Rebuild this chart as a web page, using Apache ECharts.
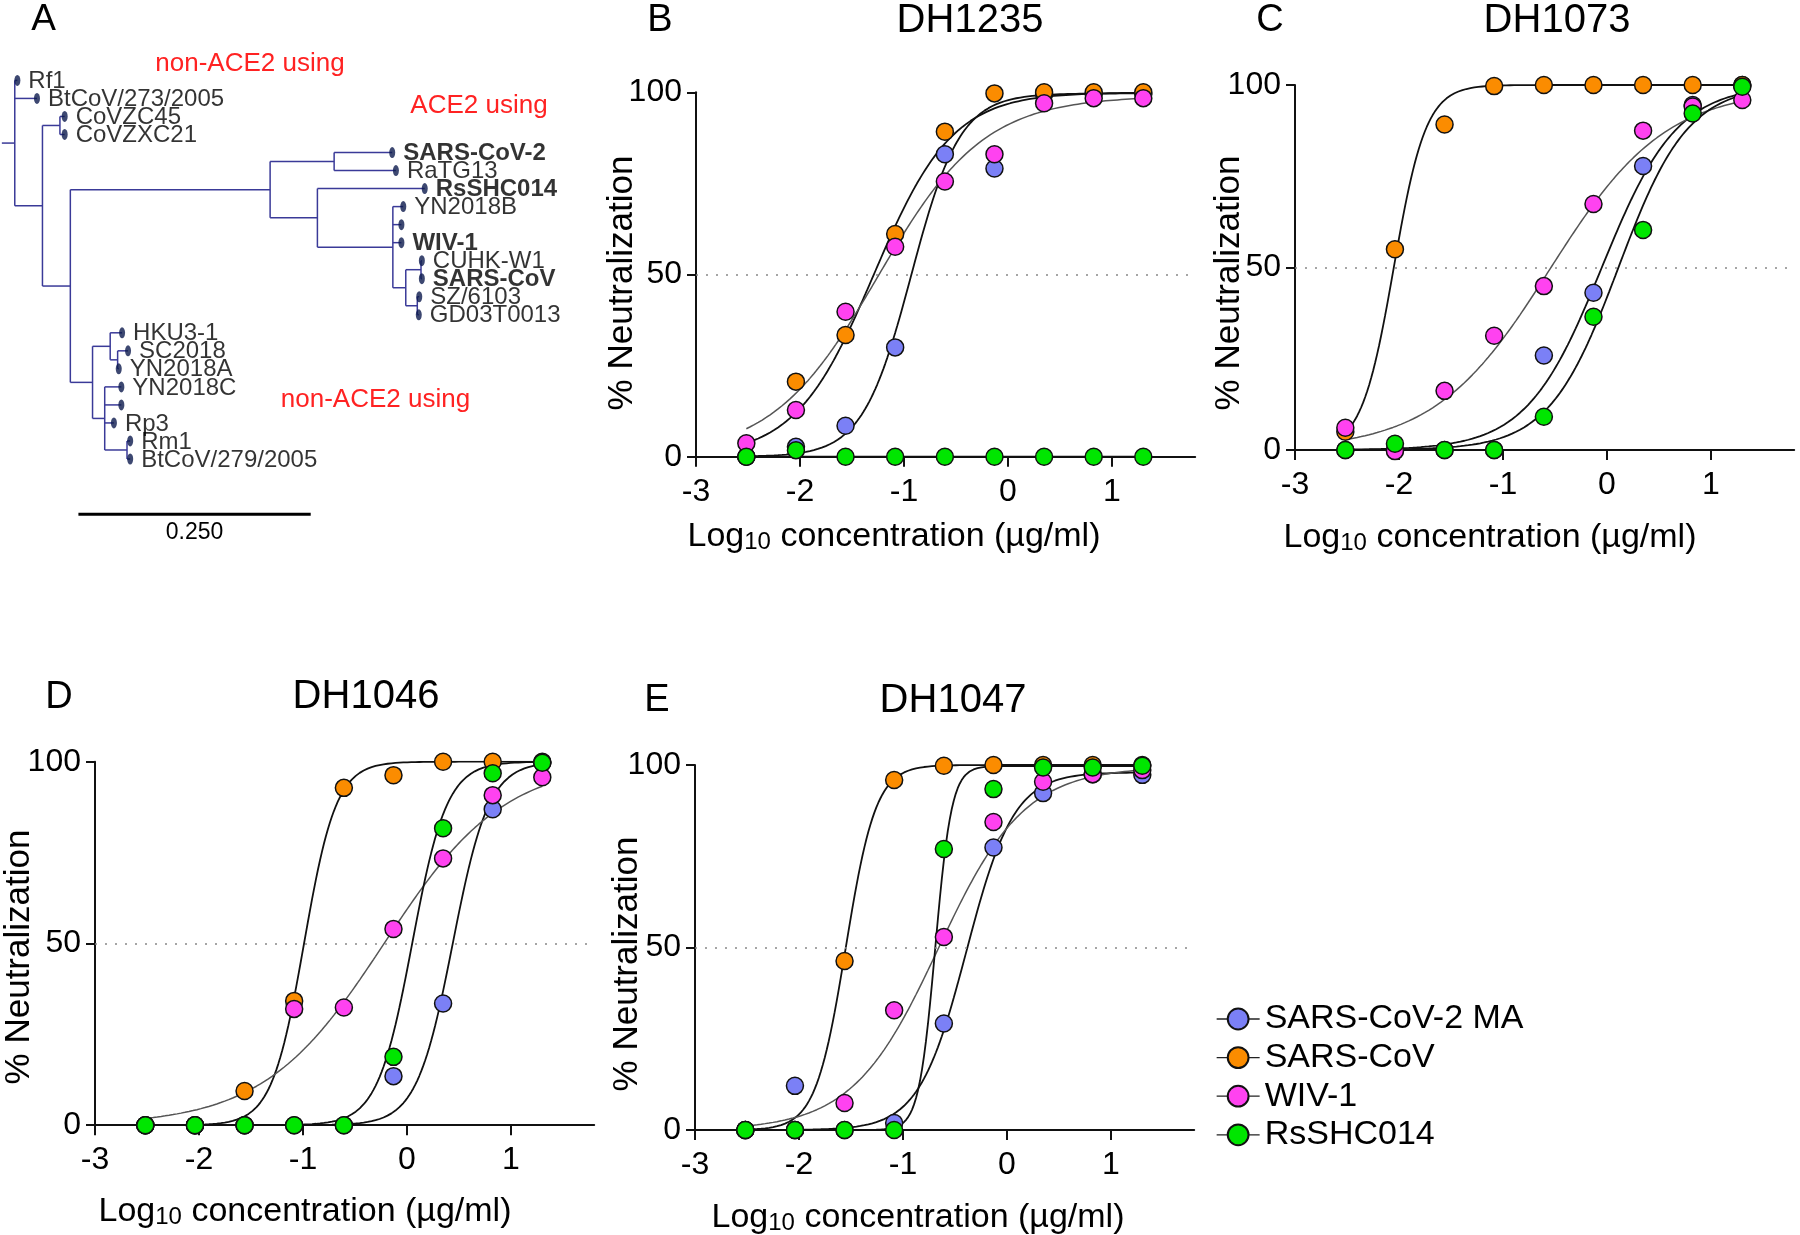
<!DOCTYPE html>
<html><head><meta charset="utf-8">
<script src="https://cdn.jsdelivr.net/npm/echarts@6/dist/echarts.min.js"></script>
<style>html,body{margin:0;padding:0;background:#fff}#c{width:1800px;height:1235px}</style>
</head><body><div id="c"></div>
<script>
// ---------------- DATA ----------------
const virusNames = ['SARS-CoV-2 MA', 'SARS-CoV', 'WIV-1', 'RsSHC014'];
const logConc = [-2.516, -2.039, -1.562, -1.085, -0.607, -0.130, 0.347, 0.824, 1.301];
const xTicks = [-3, -2, -1, 0, 1];
const yTicks = [0, 50, 100];

// DH1235
const dh1235_sars2ma = [0, 2.7, 8.5, 30, 83, 79.1, 99.5, 99.5, 99.5];
const dh1235_sarscov = [0, 20.6, 33.4, 61.1, 89.2, 99.7, 100, 100, 100];
const dh1235_wiv1 = [3.7, 12.8, 39.8, 57.6, 75.5, 83, 97, 98.4, 98.4];
const dh1235_rsshc014 = [0, 1.8, 0, 0, 0, 0, 0, 0, 0];
// fit: [bottom, top, logIC50, hill]
const dh1235_fits = [[0, 99.7, -0.93, 1.85], [0, 100, -1.29, 1.15], [0, 99, -1.25, 0.85], [0, 0, 0, 1]];

// DH1073
const dh1073_sars2ma = [0, 0, 0, 0, 25.9, 43.1, 77.8, 94.5, 100];
const dh1073_sarscov = [5, 55, 89.2, 99.7, 100, 100, 100, 100, 100];
const dh1073_wiv1 = [6.1, -0.3, 16.2, 31.3, 44.9, 67.4, 87.5, 94.1, 95.9];
const dh1073_rsshc014 = [0, 1.7, 0, 0, 9.1, 36.5, 60.3, 92.2, 99.5];
const dh1073_fits = [[0, 100, -0.05, 1.2], [0, 100, -2.05, 2.8], [0, 99, -0.55, 0.78], [0, 100, 0.11, 1.3]];

// DH1046
const dh1046_sars2ma = [0, 0, 0, 0, 0, 13.5, 33.5, 86.9, 99.7];
const dh1046_sarscov = [0, 0, 9.4, 34.2, 92.8, 96.3, 100, 100, 100];
const dh1046_wiv1 = [0, 0, 0, 32, 32.4, 54, 73.4, 90.8, 95.7];
const dh1046_rsshc014 = [0, 0, 0, 0, 0, 18.8, 81.7, 96.8, 99.7];
const dh1046_fits = [[0, 100, 0.44, 2.5], [0, 100, -0.99, 2.8], [0, 100, -0.22, 0.75], [0, 100, 0.05, 2.6]];

// DH1047
const dh1047_sars2ma = [0, 12.1, 0, 1.9, 29.2, 77.4, 92.3, 97.5, 97.3];
const dh1047_sarscov = [0, 0, 46.3, 95.9, 99.8, 100, 100, 100, 100];
const dh1047_wiv1 = [0, 0, 7.4, 32.8, 52.9, 84.4, 95.4, 97.5, 98.6];
const dh1047_rsshc014 = [0, 0, 0, 0, 77, 93.4, 99.3, 99.3, 99.8];
const dh1047_fits = [[0, 98, -0.39, 1.9], [0, 100, -1.55, 3.0], [0, 99.5, -0.66, 1.05], [0, 99.7, -0.69, 5.5]];

// Phylogenetic tree (panel A): leaves top to bottom, depth = distance from root
const treeLeaves = ['Rf1', 'BtCoV/273/2005', 'CoVZC45', 'CoVZXC21', 'SARS-CoV-2', 'RaTG13', 'RsSHC014',
  'YN2018B', '', 'WIV-1', 'CUHK-W1', 'SARS-CoV', 'SZ/6103', 'GD03T0013', 'HKU3-1', 'SC2018', 'YN2018A',
  'YN2018C', '', 'Rp3', 'Rm1', 'BtCoV/279/2005'];
const leafDepth = [0.0167, 0.0378, 0.0676, 0.0676, 0.4201, 0.4241, 0.4551, 0.4320, 0.4300, 0.4300, 0.4520,
  0.4520, 0.4492, 0.4487, 0.1294, 0.1358, 0.1258, 0.1286, 0.1286, 0.1206, 0.1381, 0.1381];
const boldLeaves = ['SARS-CoV-2', 'RsSHC014', 'WIV-1', 'SARS-CoV'];
const treeNodeNames = ['root', 'n1', 'n2', 'n3', 'n4', 'n5', 'n6', 'n7', 'n8', 'n9', 'n10', 'n11', 'n12', 'n13', 'n14', 'n15'];
const treeNodeDepth = [0.0139, 0.0437, 0.0625, 0.0737, 0.2887, 0.3576, 0.3396, 0.4208, 0.4347, 0.4511, 0.4471, 0.0976, 0.1166, 0.1246, 0.1107, 0.1347];
const treeNodeChildren = [['L0', 'L1', 'n1'], ['n2', 'n3'], ['L2', 'L3'], ['n4', 'n11'], ['n5', 'n6'], ['L4', 'L5'],
  ['L6', 'n7'], ['L7', 'L8', 'L9', 'n8'], ['n9', 'n10'], ['L10', 'L11'], ['L12', 'L13'], ['n12', 'n14'],
  ['L14', 'n13'], ['L15', 'L16'], ['L17', 'L18', 'L19', 'n15'], ['L20', 'L21']];
const scaleBarLength = 0.25;
const scaleBarLabel = '0.250';
const cladeLabels = ['non-ACE2 using', 'ACE2 using', 'non-ACE2 using'];

// ---------------- LAYOUT / STYLE ----------------
const FF = '"Liberation Sans", Arial, Helvetica, sans-serif';
const pointColors = ['#7b80f6', '#fb8c00', '#ff42f0', '#00e600'];
const curveColors = ['#111', '#111', '#555', '#111'];
const curveWidths = [1.8, 1.8, 1.5, 1.8];

const panels = [
  { letter: 'B', title: 'DH1235', values: [dh1235_sars2ma, dh1235_sarscov, dh1235_wiv1, dh1235_rsshc014], fits: dh1235_fits,
    grid: { left: 696, top: 92.3, width: 499.2, height: 364.4 }, letterPos: [660, 21], titlePos: [970, 21], xName: [894, 534], yName: [622, 283] },
  { letter: 'C', title: 'DH1073', values: [dh1073_sars2ma, dh1073_sarscov, dh1073_wiv1, dh1073_rsshc014], fits: dh1073_fits,
    grid: { left: 1295, top: 85, width: 499.2, height: 365 }, letterPos: [1270, 21], titlePos: [1557, 21], xName: [1490, 535], yName: [1229, 283] },
  { letter: 'D', title: 'DH1046', values: [dh1046_sars2ma, dh1046_sarscov, dh1046_wiv1, dh1046_rsshc014], fits: dh1046_fits,
    grid: { left: 95, top: 761.7, width: 499.2, height: 363.5 }, letterPos: [59, 698], titlePos: [366, 697], xName: [305, 1209], yName: [19.5, 957] },
  { letter: 'E', title: 'DH1047', values: [dh1047_sars2ma, dh1047_sarscov, dh1047_wiv1, dh1047_rsshc014], fits: dh1047_fits,
    grid: { left: 695, top: 765, width: 499.2, height: 365 }, letterPos: [657, 701], titlePos: [953, 701], xName: [918, 1215], yName: [627, 964] }
];

function fourPL(p, x) { return p[0] + (p[1] - p[0]) / (1 + Math.pow(10, p[3] * (p[2] - x))); }
function fitCurve(p) {
  const pts = [], a = logConc[0], b = logConc[logConc.length - 1], n = 200;
  for (let i = 0; i <= n; i++) { const x = a + (b - a) * i / n; pts.push([x, fourPL(p, x)]); }
  return pts;
}

const grids = [], xAxes = [], yAxes = [], series = [], graphics = [];
const axisCol = '#111';

panels.forEach((pn, gi) => {
  grids.push(Object.assign({ containLabel: false, outerBoundsMode: 'none' }, pn.grid));
  xAxes.push({
    gridIndex: gi, type: 'value', min: -3, max: 1.8,
    axisLine: { show: true, onZero: false, lineStyle: { color: axisCol, width: 2 } },
    axisTick: { show: true, length: 10, customValues: xTicks, lineStyle: { color: axisCol, width: 2 } },
    axisLabel: { customValues: xTicks, fontSize: 32, fontFamily: FF, color: '#000', margin: 19 },
    splitLine: { show: false }
  });
  yAxes.push({
    gridIndex: gi, type: 'value', min: 0, max: 100, interval: 50,
    axisLine: { show: true, onZero: false, lineStyle: { color: axisCol, width: 2 } },
    axisTick: { show: true, length: 9, customValues: yTicks, lineStyle: { color: axisCol, width: 2 } },
    axisLabel: { customValues: yTicks, fontSize: 32, fontFamily: FF, color: '#000', margin: 14 },
    splitLine: { show: false }
  });
  // fitted curves
  pn.fits.forEach((p, si) => {
    series.push({
      name: gi === 0 ? virusNames[si] : pn.title + ' fit ' + virusNames[si],
      type: 'line', xAxisIndex: gi, yAxisIndex: gi, data: fitCurve(p),
      showSymbol: false, symbol: 'circle', symbolSize: 17, silent: true, z: 2,
      lineStyle: { color: curveColors[si], width: curveWidths[si] },
      itemStyle: { color: pointColors[si], borderColor: '#111', borderWidth: 1.5 },
      markLine: si === 0 ? {
        silent: true, symbol: 'none', label: { show: false },
        lineStyle: { color: '#888', width: 1.6, type: [2, 8] },
        data: [{ yAxis: yTicks[1] }]
      } : undefined
    });
  });
  // data points
  pn.values.forEach((vals, si) => {
    series.push({
      name: pn.title + ' ' + virusNames[si], type: 'scatter', xAxisIndex: gi, yAxisIndex: gi, clip: false,
      data: logConc.map((x, k) => [x, vals[k]]), symbol: 'circle', symbolSize: 17, z: 5,
      itemStyle: { color: pointColors[si], borderColor: '#111', borderWidth: 1.5, opacity: 1 }
    });
  });
  // texts
  graphics.push({ type: 'text', x: pn.letterPos[0], y: pn.letterPos[1], style: { text: pn.letter, font: '38px ' + FF, fill: '#000', textAlign: 'center', textVerticalAlign: 'middle' } });
  graphics.push({ type: 'text', x: pn.titlePos[0], y: pn.titlePos[1], style: { text: pn.title, font: '40px ' + FF, fill: '#000', textAlign: 'center', textVerticalAlign: 'middle' } });
  graphics.push({ type: 'text', x: pn.xName[0], y: pn.xName[1], style: {
    text: '{a|Log}{b|10}{a| concentration (µg/ml)}', textAlign: 'center', textVerticalAlign: 'middle',
    rich: { a: { fontSize: 34, fontFamily: FF, fill: '#000', color: '#000', lineHeight: 40, verticalAlign: 'bottom' },
            b: { fontSize: 24, fontFamily: FF, fill: '#000', color: '#000', lineHeight: 34, verticalAlign: 'bottom' } } } });
  graphics.push({ type: 'text', x: pn.yName[0], y: pn.yName[1], rotation: Math.PI / 2, style: { text: '% Neutralization', font: '35px ' + FF, fill: '#000', textAlign: 'center', textVerticalAlign: 'middle' } });
});

// ---------------- TREE (panel A) ----------------
const TG = grids.length;
grids.push({ left: 1.85, top: 80.4, width: 464.6, height: 378.6, containLabel: false, outerBoundsMode: 'none' });
xAxes.push({ gridIndex: TG, type: 'value', min: 0, max: 0.5, show: false });
yAxes.push({ gridIndex: TG, type: 'value', min: 0, max: 21, inverse: true, show: false });

const nodePos = {};
treeLeaves.forEach((n, i) => { nodePos['L' + i] = [leafDepth[i], i]; });
function resolve(name) {
  if (nodePos[name]) return nodePos[name];
  const k = treeNodeNames.indexOf(name);
  const ch = treeNodeChildren[k].map(resolve);
  nodePos[name] = [treeNodeDepth[k], (ch[0][1] + ch[ch.length - 1][1]) / 2];
  return nodePos[name];
}
resolve('root');
const segs = [];
segs.push([0, nodePos.root[1], nodePos.root[0], nodePos.root[1]]);
treeNodeNames.forEach((nm, k) => {
  const p = nodePos[nm];
  const ch = treeNodeChildren[k].map(c => nodePos[c]);
  segs.push([p[0], ch[0][1], p[0], ch[ch.length - 1][1]]);
  ch.forEach(c => segs.push([p[0], c[1], c[0], c[1]]));
});
series.push({
  type: 'custom', xAxisIndex: TG, yAxisIndex: TG, silent: true, z: 2,
  dimensions: ['x1', 'y1', 'x2', 'y2'], encode: { x: [0, 2], y: [1, 3] },
  data: segs,
  renderItem: function (params, api) {
    const a = api.coord([api.value(0), api.value(1)]);
    const b = api.coord([api.value(2), api.value(3)]);
    return { type: 'line', shape: { x1: a[0], y1: a[1], x2: b[0], y2: b[1] }, style: { stroke: '#3a3a98', lineWidth: 1.5 } };
  }
});
series.push({
  type: 'scatter', xAxisIndex: TG, yAxisIndex: TG, silent: true, z: 4,
  symbol: 'circle', symbolSize: [6, 11], itemStyle: { color: '#0d1a4e' },
  data: treeLeaves.map((n, i) => ({
    name: n, value: [leafDepth[i], i],
    label: { show: n !== '', position: 'right', distance: 8, offset: [0, 1], formatter: '{b}', fontSize: 24, fontFamily: FF, color: '#000',
      fontWeight: boldLeaves.indexOf(n) >= 0 ? 'bold' : 'normal' }
  }))
});
// scale bar
series.push({
  type: 'custom', xAxisIndex: TG, yAxisIndex: TG, silent: true, z: 2,
  dimensions: ['len'], data: [[scaleBarLength]],
  renderItem: function (params, api) {
    const x0 = 0.0824, yv = 24.07;
    const a = api.coord([x0, yv]);
    const b = api.coord([x0 + api.value(0), yv]);
    return { type: 'group', children: [
      { type: 'line', shape: { x1: a[0], y1: a[1], x2: b[0], y2: b[1] }, style: { stroke: '#000', lineWidth: 3 } },
      { type: 'text', x: (a[0] + b[0]) / 2, y: a[1] + 18, style: { text: scaleBarLabel, font: '23px ' + FF, fill: '#000', textAlign: 'center', textVerticalAlign: 'middle' } }
    ] };
  }
});
graphics.push({ type: 'text', x: 43.5, y: 20, style: { text: 'A', font: '37px ' + FF, fill: '#000', textAlign: 'center', textVerticalAlign: 'middle' } });
const cladePos = [[250, 63.6], [479, 105.4], [375.5, 400]];
cladeLabels.forEach((t, i) => {
  graphics.push({ type: 'text', x: cladePos[i][0], y: cladePos[i][1], style: { text: t, font: '26px ' + FF, fill: '#ff2222', textAlign: 'center', textVerticalAlign: 'middle' } });
});

const chart = echarts.init(document.getElementById('c'), null, { renderer: 'canvas', width: 1800, height: 1235 });
chart.setOption({
  animation: false,
  backgroundColor: '#fff',
  textStyle: { fontFamily: FF },
  grid: grids, xAxis: xAxes, yAxis: yAxes, series: series,
  legend: {
    data: virusNames, orient: 'vertical', left: 1216, top: 1002, padding: 0,
    itemWidth: 43, itemHeight: 26, itemGap: 4.6, selectedMode: false,
    textStyle: { fontSize: 34, fontFamily: FF, color: '#000', lineHeight: 33 },
    lineStyle: { color: '#222', width: 1.3 }
  },
  graphic: { elements: graphics }
});
</script>
</body></html>
